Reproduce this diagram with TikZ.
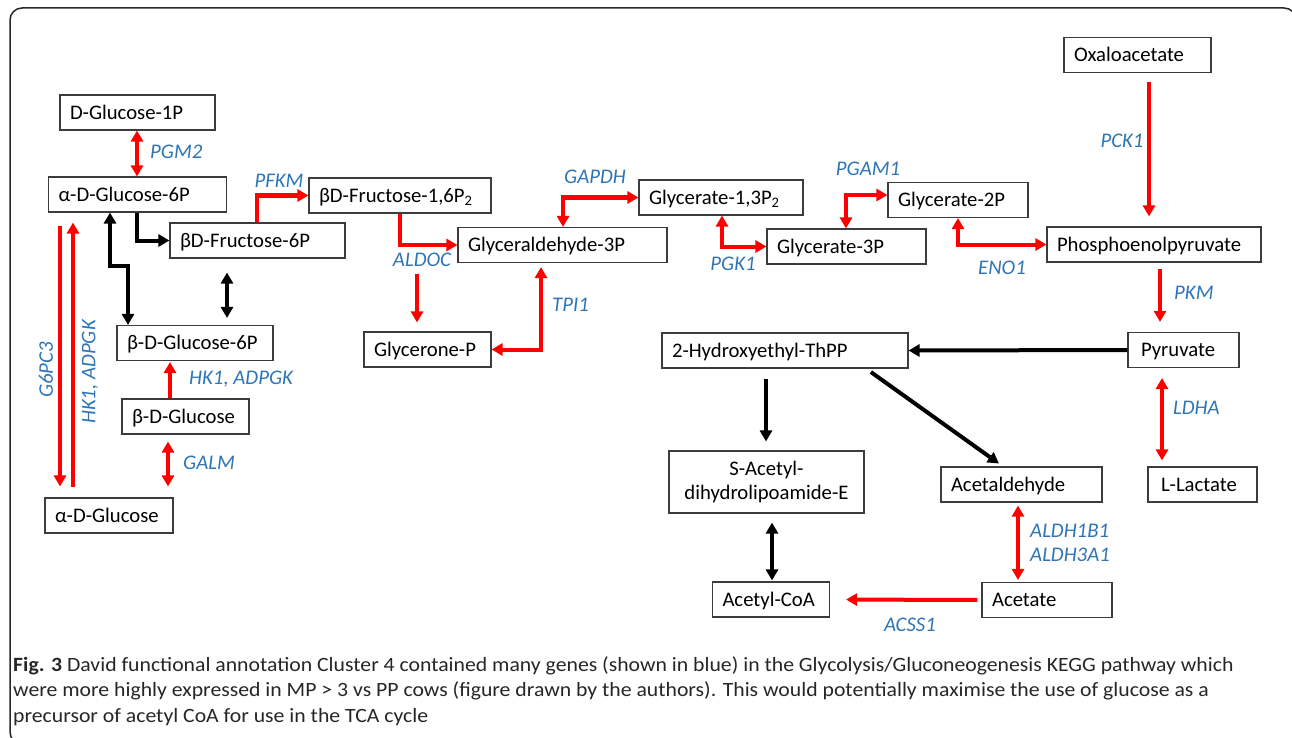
\documentclass[tikz,border=0pt]{standalone}
\usepackage{fontspec}
\setmainfont{Carlito}
\newfontfamily\capfont[FakeStretch=1.07]{Carlito}
\usetikzlibrary{arrows.meta}
\definecolor{geneblue}{RGB}{46,117,182}
\definecolor{boxc}{RGB}{60,60,60}
\definecolor{redc}{RGB}{255,0,0}
\definecolor{framec}{RGB}{40,40,40}
\hyphenpenalty=10000
\exhyphenpenalty=10000
\tikzset{
  box/.style={draw=boxc, line width=1.1pt, inner xsep=10pt, inner ysep=0pt,
    minimum height=35pt, text height=13.4pt, text depth=0pt, align=left,
    font=\fontsize{20.7}{24}\selectfont},
  gene/.style={text=geneblue, inner sep=0pt, font=\fontsize{20.8}{24}\selectfont\itshape},
  tipa/.tip={Triangle[length=11pt,width=12pt]},
  rarr/.style={draw=redc, line width=4pt, -tipa},
  rdbl/.style={draw=redc, line width=4pt, tipa-tipa},
  barr/.style={draw=black, line width=4pt, -tipa},
  bdbl/.style={draw=black, line width=4pt, tipa-tipa},
  captxt/.style={inner sep=0pt, anchor=base west, text=black!85, font=\capfont\fontsize{20.3}{24}\selectfont}
}
\begin{document}
\begin{tikzpicture}[x=1pt,y=-1pt]
\useasboundingbox (0,0) rectangle (1292,738);
\clip (0,0) rectangle (1292,738);
\draw[framec, line width=1.5pt, rounded corners=12pt] (10,8) rectangle (1296,744);

% nodes
\node[box, text width=135pt] (g1p) at (137.5,112.5) {D-Glucose-1P};
\node[box, text width=158pt] (ag6p) at (137.5,194.5) {α-D-Glucose-6P};
\node[box, text width=155pt] (f6p) at (257.5,240.5) {βD-Fructose-6P};
\node[box, text width=136pt] (bg6p) at (195,343) {β-D-Glucose-6P};
\node[box, text width=107pt] (bg) at (185.5,416.5) {β-D-Glucose};
\node[box, text width=108pt] (ag) at (109,515.5) {α-D-Glucose};
\node[box, text width=162pt] (f16) at (400,195.5) {βD-Fructose-1,6P\textsubscript{2}};
\node[box, text width=189pt] (gap3) at (562.5,245) {Glyceraldehyde-3P};
\node[box, text width=107pt] (gnp) at (427.5,349.5) {Glycerone-P};
\node[box, text width=144pt] (g13) at (721,197.5) {Glycerate-1,3P\textsubscript{2}};
\node[box, text width=139pt] (g3p) at (846.5,246.5) {Glycerate-3P};
\node[box, text width=120pt] (g2p) at (958,200) {Glycerate-2P};
\node[box, text width=194pt] (pep) at (1154,244.5) {Phosphoenolpyruvate};
\node[box, text width=127pt] (oaa) at (1137.5,55) {Oxaloacetate};
\node[box, text width=226pt] (hthpp) at (785,350.5) {2-Hydroxyethyl-ThPP};
\node[box, text width=91pt] (pyr) at (1183.5,350) {\hspace{3pt}Pyruvate};
\node[box, text width=175pt, minimum height=62pt, text height=, text depth=, align=center] (sacet) at (766.5,482) {S-Acetyl-\\dihydrolipoamide-E};
\node[box, text width=141pt] (acald) at (1021.5,484.5) {Acetaldehyde};
\node[box, text width=89pt] (llac) at (1202.5,484.5) {\hspace{3pt}L-Lactate};
\node[box, text width=97pt] (acoa) at (771,599.5) {Acetyl-CoA};
\node[box, text width=110pt] (acet) at (1047,600) {Acetate};

% connectors
\draw[rdbl] (137,0 |- g1p.south) -- (137,0 |- ag6p.north);
\draw[rarr] (257,0 |- f6p.north) |- (f16.west);
\draw[barr] (137,0 |- ag6p.south) |- (f6p.west);
\draw[bdbl] (110,0 |- ag6p.south) -- (110,266) -- (128,266) -- (128,0 |- bg6p.north);
\draw[bdbl, shorten <=14pt, shorten >=7pt] (227,0 |- f6p.south) -- (227,0 |- bg6p.north);
\draw[rarr, shorten >=1pt] (170,0 |- bg.north) -- (170,0 |- bg6p.south);
\draw[rdbl, shorten <=7pt, shorten >=11pt] (168,0 |- bg.south) -- (168,0 |- ag.north);
\draw[rarr, shorten <=13pt, shorten >=11pt] (60,0 |- ag6p.south) -- (60,0 |- ag.north);
\draw[rarr, shorten <=10pt, shorten >=10pt] (73,0 |- ag.north) -- (73,0 |- ag6p.south);
\draw[rarr] (400,0 |- f16.south) |- (gap3.west);
\draw[rarr, shorten <=60pt, shorten >=9pt] (417,0 |- f16.south) -- (417,0 |- gnp.north);
\draw[rdbl, shorten <=4pt] (541,0 |- gap3.south) |- (gnp.east);
\draw[rdbl] (563,0 |- gap3.north) |- (g13.west);
\draw[rdbl] (722,0 |- g13.south) |- (g3p.west);
\draw[rdbl] (846,0 |- g3p.north) |- ([yshift=5pt]g2p.west);
\draw[rdbl] (958,0 |- g2p.south) |- (pep.west);
\draw[rarr, shorten <=9pt, shorten >=10pt] (1149,0 |- oaa.south) -- (1149,0 |- pep.north);
\draw[rarr, shorten <=6pt, shorten >=10pt] (1160,0 |- pep.south) -- (1160,0 |- pyr.north);
\draw[barr] (pyr.west) -- (hthpp.east);
\draw[barr, shorten <=10pt, shorten >=9pt] (766,0 |- hthpp.south) -- (766,0 |- sacet.north);
\draw[barr, shorten <=6pt, shorten >=5pt] (866,0 |- hthpp.south) -- (1003,0 |- acald.north);
\draw[rdbl, shorten <=10pt, shorten >=6pt] (1162,0 |- pyr.south) -- (1162,0 |- llac.north);
\draw[rdbl, shorten <=3pt, shorten >=2pt] (1018,0 |- acald.south) -- (1018,0 |- acet.north);
\draw[bdbl, shorten <=9pt, shorten >=1pt] (772,0 |- sacet.south) -- (772,0 |- acoa.north);
\draw[rarr, shorten <=4pt, shorten >=16pt] (acet.west) -- (acoa.east);

% gene labels
\node[gene, anchor=west] (lpgm2) at (150,152) {PGM2};
\node[gene] (lpfkm) at (279,181) {PFKM};
\node[gene, anchor=west] (lhk1) at (189,379) {HK1, ADPGK};
\node[gene, anchor=west] (lgalm) at (183,463) {GALM};
\node[gene, rotate=90] (lg6pc3) at (46,370) {G6PC3};
\node[gene, rotate=90] (lhk1b) at (90,372) {HK1, ADPGK};
\node[gene] (laldoc) at (422,260) {ALDOC};
\node[gene, anchor=west] (ltpi1) at (552,305) {TPI1};
\node[gene] (lgapdh) at (595,177) {GAPDH};
\node[gene] (lpgk1) at (733,264) {PGK1};
\node[gene] (lpgam1) at (868,169) {PGAM1};
\node[gene] (leno1) at (1002,268) {ENO1};
\node[gene] (lpck1) at (1122,141) {PCK1};
\node[gene, anchor=west] (lpkm) at (1174,293) {PKM};
\node[gene, anchor=west] (lldha) at (1173,408) {LDHA};
\node[gene, anchor=west] (laldh1) at (1030,531) {ALDH1B1};
\node[gene, anchor=west] (laldh3) at (1030,555) {ALDH3A1};
\node[gene] (lacss1) at (910,625) {ACSS1};

% caption
\node[captxt] (cap1) at (13,671) {\textbf{Fig. 3} David functional annotation Cluster 4 contained many genes (shown in blue) in the Glycolysis/Gluconeogenesis KEGG pathway which};
\node[captxt] (cap2) at (13,696.5) {were more highly expressed in MP > 3 vs PP cows (figure drawn by the authors). This would potentially maximise the use of glucose as a};
\node[captxt] (cap3) at (13,722) {precursor of acetyl CoA for use in the TCA cycle};
\end{tikzpicture}
\end{document}
